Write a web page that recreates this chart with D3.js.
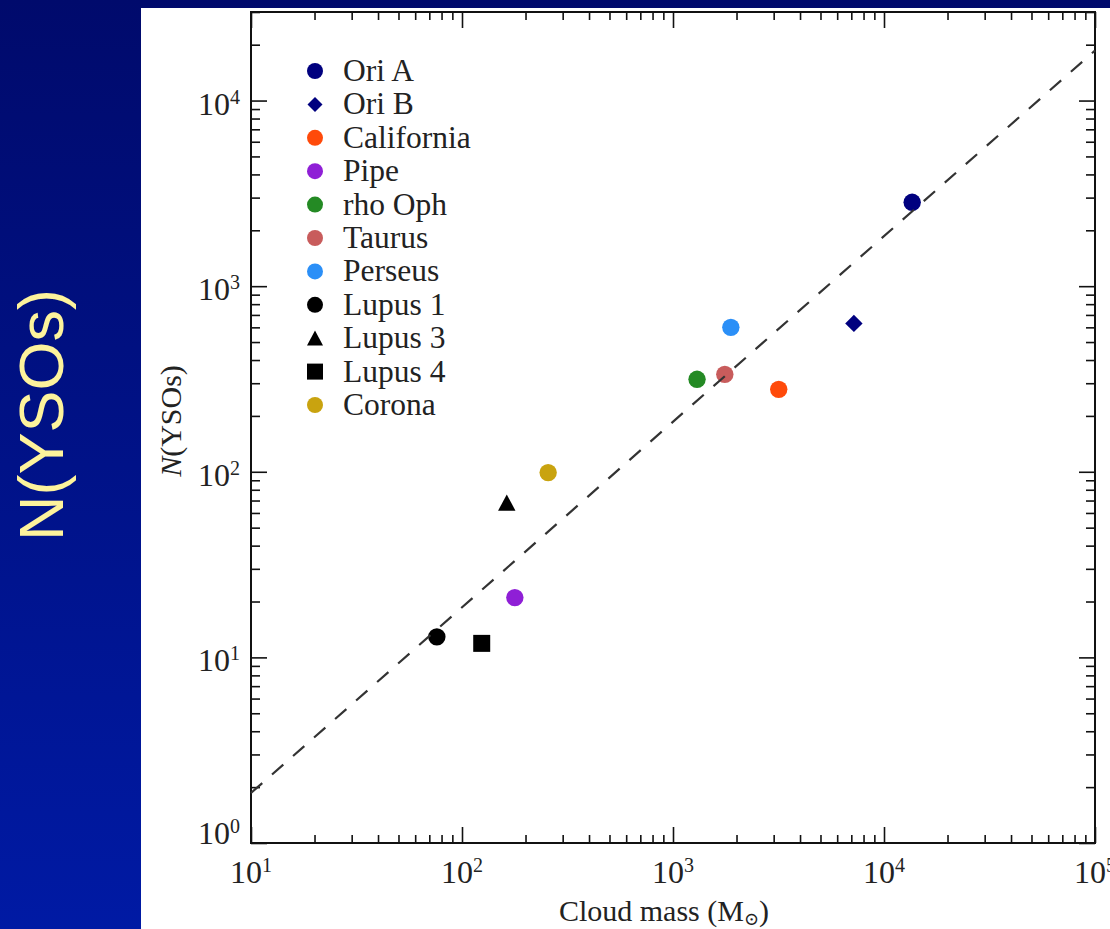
<!DOCTYPE html>
<html>
<head>
<meta charset="utf-8">
<script src="https://cdn.jsdelivr.net/npm/d3@7"></script>
<style>
  body { margin: 0; background: #fff; }
  svg { display: block; }
</style>
</head>
<body>
<div id="viz"></div>
<script>
// cloud data
const clouds = ["Ori A", "Ori B", "California", "Pipe", "rho Oph", "Taurus", "Perseus", "Lupus 1", "Lupus 3", "Lupus 4", "Corona"];
const cloudMass = [13600, 7200, 3170, 178, 1300, 1760, 1880, 76, 163, 124, 256];
const nYSOs = [2830, 630, 278, 21, 315, 335, 600, 12.9, 68, 11.9, 99];
const cloudColors = ["#00007f", "#00007f", "#ff4a0a", "#8f1fd6", "#248a24", "#c85c5c", "#2b8ff7", "#000000", "#000000", "#000000", "#c9a30f"];
const cloudShapes = ["circle", "diamond", "circle", "circle", "circle", "circle", "circle", "circle", "triangle", "square", "circle"];

// dashed relation N = a * M
const fitCoef = 0.186;
const fitMass = [10, 1e5];

const xTickExps = [1, 2, 3, 4, 5];
const yTickExps = [0, 1, 2, 3, 4];

const W = 1110, H = 929;
const svg = d3.select("#viz").append("svg").attr("width", W).attr("height", H);

// slide background
const defs = svg.append("defs");
const grad = defs.append("linearGradient").attr("id", "bg").attr("x1", 0).attr("y1", 0).attr("x2", 0).attr("y2", 1);
grad.append("stop").attr("offset", "0%").attr("stop-color", "#000a6c");
grad.append("stop").attr("offset", "100%").attr("stop-color", "#001aa4");
svg.append("rect").attr("width", W).attr("height", H).attr("fill", "url(#bg)");
svg.append("rect").attr("x", 141).attr("y", 8).attr("width", W - 141).attr("height", H - 8).attr("fill", "#fff");

svg.append("text")
   .attr("transform", "translate(63,415) rotate(-90)")
   .attr("text-anchor", "middle")
   .style("font-family", "'Liberation Sans', Arial, sans-serif")
   .style("font-size", "63px")
   .attr("fill", "#fdf39c")
   .text("N(YSOs)");

const pLeft = 251, pRight = 1095, pTop = 12, pBottom = 843;

const x = d3.scaleLog().domain([10, 1e5]).range([pLeft, pRight]);
const y = d3.scaleLog().domain([1, 3e4]).range([pBottom, pTop]);

const serif = "'Liberation Serif', 'Times New Roman', serif";

// ticks: minor and major, inward on all sides
const isMajor = (v, exps) => exps.some(e => Math.abs(v - 10 ** e) < 1e-6);
const xMinor = x.ticks().filter(v => !isMajor(v, xTickExps));
const yMinor = y.ticks().filter(v => !isMajor(v, yTickExps));
const xMajor = xTickExps.map(e => 10 ** e);
const yMajor = yTickExps.map(e => 10 ** e);

function drawAxis(axis) {
  return g => {
    g.call(axis);
    g.select(".domain").remove();
    g.selectAll("line").attr("stroke", "#111").attr("stroke-width", 1.6);
    g.selectAll("text").remove();
  };
}

[[xMinor, 8], [xMajor, 16]].forEach(([vals, len]) => {
  svg.append("g").attr("transform", `translate(0,${pBottom})`)
     .call(drawAxis(d3.axisBottom(x).tickValues(vals).tickSizeInner(-len).tickSizeOuter(0)));
  svg.append("g").attr("transform", `translate(0,${pTop})`)
     .call(drawAxis(d3.axisTop(x).tickValues(vals).tickSizeInner(-len).tickSizeOuter(0)));
});
[[yMinor, 9], [yMajor, 16]].forEach(([vals, len]) => {
  svg.append("g").attr("transform", `translate(${pLeft},0)`)
     .call(drawAxis(d3.axisLeft(y).tickValues(vals).tickSizeInner(-len).tickSizeOuter(0)));
  svg.append("g").attr("transform", `translate(${pRight},0)`)
     .call(drawAxis(d3.axisRight(y).tickValues(vals).tickSizeInner(-len).tickSizeOuter(0)));
});

svg.append("rect")
   .attr("x", pLeft).attr("y", pTop)
   .attr("width", pRight - pLeft).attr("height", pBottom - pTop)
   .attr("fill", "none").attr("stroke", "#111").attr("stroke-width", 2);

// tick labels
const xLab = svg.append("g").style("font-family", serif).attr("fill", "#222");
xTickExps.forEach(e => {
  const t = xLab.append("text")
     .attr("x", x(10 ** e)).attr("y", 883)
     .attr("text-anchor", "middle")
     .style("font-size", "32px");
  t.append("tspan").text("10");
  t.append("tspan").attr("dy", -11).style("font-size", "20px").text(e);
});

const yLab = svg.append("g").style("font-family", serif).attr("fill", "#222");
yTickExps.forEach(e => {
  const t = yLab.append("text")
     .attr("x", 240).attr("y", Math.min(y(10 ** e) + 14, 844))
     .attr("text-anchor", "end")
     .style("font-size", "32px");
  t.append("tspan").text("10");
  t.append("tspan").attr("dy", -11).style("font-size", "20px").text(e);
});

// axis titles
const xt = svg.append("text")
   .attr("x", 664).attr("y", 921)
   .attr("text-anchor", "middle")
   .style("font-family", serif).style("font-size", "30px").attr("fill", "#222");
xt.append("tspan").text("Cloud mass (M");
xt.append("tspan").attr("dy", 4).style("font-size", "18px").style("font-family", "'DejaVu Serif', serif").text("\u2299");
xt.append("tspan").attr("dy", -4).text(")");

const yt = svg.append("text")
   .attr("transform", "translate(181,421) rotate(-90)")
   .attr("text-anchor", "middle")
   .style("font-family", serif).style("font-size", "30px").attr("fill", "#222");
yt.append("tspan").style("font-style", "italic").text("N");
yt.append("tspan").text("(YSOs)");

// marker shapes
function marker(shape, r) {
  if (shape === "circle") {
    const p = d3.path(); p.arc(0, 0, r, 0, 2 * Math.PI); return p.toString();
  }
  if (shape === "square") return `M${-r},${-r}H${r}V${r}H${-r}Z`;
  if (shape === "diamond") return `M0,${-r}L${r},0L0,${r}L${-r},0Z`;
  if (shape === "triangle") return `M0,${-r * 0.95}L${r},${r * 0.9}L${-r},${r * 0.9}Z`;
}

const pts = clouds.map((c, i) => ({ name: c, m: cloudMass[i], n: nYSOs[i], color: cloudColors[i], shape: cloudShapes[i] }));

svg.append("g").selectAll("path")
   .data(pts)
   .enter()
   .append("path")
   .attr("transform", d => `translate(${x(d.m)},${y(d.n)})`)
   .attr("d", d => marker(d.shape, d.shape === "square" ? 8.5 : 8.7))
   .attr("fill", d => d.color);

svg.append("line")
   .attr("x1", x(fitMass[0])).attr("y1", y(fitCoef * fitMass[0]))
   .attr("x2", x(fitMass[1])).attr("y2", y(fitCoef * fitMass[1]))
   .attr("stroke", "#333").attr("stroke-width", 2.2)
   .attr("stroke-dasharray", "15,13");

// legend
const legend = svg.append("g").selectAll("g")
   .data(pts)
   .enter()
   .append("g")
   .attr("transform", (d, i) => `translate(315,${71 + i * 33.4})`);

legend.append("path")
   .attr("d", d => marker(d.shape, d.shape === "diamond" ? 7.5 : 8))
   .attr("fill", d => d.color);

legend.append("text")
   .attr("x", 28).attr("y", 10)
   .style("font-family", serif).style("font-size", "31.5px").attr("fill", "#222")
   .text(d => d.name);
</script>
</body>
</html>
